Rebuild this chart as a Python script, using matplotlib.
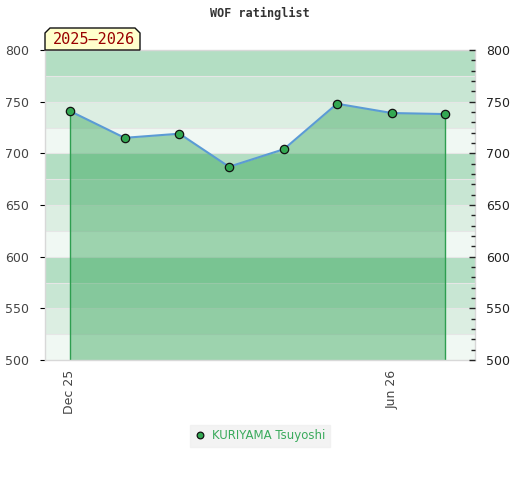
import matplotlib
matplotlib.use("Agg")
import matplotlib.pyplot as plt
import matplotlib.dates as mdates
from matplotlib.patches import Polygon
import numpy as np
import datetime as dt

dates = ["2025-12-01", "2026-01-01", "2026-02-01", "2026-03-01",
         "2026-04-01", "2026-05-01", "2026-06-01", "2026-07-01"]
ratings = [741, 715, 719, 687, 704, 748, 739, 738]
tick_dates = ["2025-12-01", "2026-06-01"]
tick_labels = ["Dec 25", "Jun 26"]
player = "KURIYAMA Tsuyoshi"
season = "2025\u20132026"
title = "WOF ratinglist"

x = [mdates.date2num(dt.datetime.strptime(d, "%Y-%m-%d")) for d in dates]
xt = [mdates.date2num(dt.datetime.strptime(d, "%Y-%m-%d")) for d in tick_dates]

fig = plt.figure(figsize=(5.2, 4.8), dpi=100)
ax = fig.add_axes([45/520, 1-360/480, 430/520, 310/480])

ymin, ymax = 500, 800
xmin = x[0] - 14
xmax = x[-1] + 17
ax.set_xlim(xmin, xmax)
ax.set_ylim(ymin, ymax)

band_colors = ["#f0f8f3", "#dceee2", "#c8e6d3", "#b3dec3"]
for i, y0 in enumerate(np.arange(ymin, ymax, 25)):
    ax.axhspan(y0, y0 + 25, color=band_colors[i % 4], lw=0, zorder=0)
    if y0 > ymin:
        ax.axhline(y0, color="#e6e6e6", lw=0.8, zorder=0.5)

ax.fill_between(x, ratings, ymin, color="#2aa050", alpha=0.42, lw=0, zorder=1)
ax.vlines([x[0], x[-1]], ymin, [ratings[0], ratings[-1]], color="#2e9e50", lw=1, zorder=2)
ax.plot(x, ratings, color="#5b9bd5", lw=1.5, zorder=3)
ax.plot(x, ratings, ls="none", marker="o", ms=6, mfc="#33a852", mec="#111111", mew=0.9, zorder=4,
        label=player)

for s in ax.spines.values():
    s.set_color("#d8d8d8")
    s.set_linewidth(1)

ax.set_yticks(np.arange(500, 801, 50))
ax.tick_params(axis="y", which="both", left=False, labelleft=True, labelsize=9,
               labelcolor="#444444", pad=8)
ax.set_xticks(xt)
ax.set_xticklabels(tick_labels, rotation=90, color="#444444", fontsize=9)
ax.tick_params(axis="x", length=0, pad=7)

ax2 = ax.twinx()
ax2.set_ylim(ymin, ymax)
ax2.set_yticks(np.arange(500, 801, 50))
ax2.set_yticks(np.arange(500, 801, 10), minor=True)
ax2.tick_params(axis="y", which="both", direction="in", color="#222222", width=1,
                labelsize=9, labelcolor="#222222", pad=8)
ax2.tick_params(axis="y", which="major", length=4)
ax2.tick_params(axis="y", which="minor", length=3)
for s in ax2.spines.values():
    s.set_visible(False)

fig.text(0.5, 1-13/480, title, ha="center", va="center", fontsize=8.5,
         family="DejaVu Sans Mono", fontweight="bold", color="#333333")

# season label box with cut corners
bx0, bx1 = 45/520, 140/520
by0, by1 = 1-50/480, 1-28/480
c = 5/520
cy = 5/480
poly = Polygon([(bx0, by0), (bx0, by1 - cy), (bx0 + c, by1), (bx1 - c, by1),
                (bx1, by1 - cy), (bx1, by0)], closed=True, transform=fig.transFigure,
               facecolor="#ffffcc", edgecolor="#111111", lw=1, zorder=5)
fig.patches.append(poly)
fig.text((bx0 + bx1) / 2 + 1/520, (by0 + by1) / 2 - 1/480, season, ha="center", va="center",
         fontsize=11, family="DejaVu Sans Mono", color="#990000", zorder=6)

leg = fig.legend(handles=[ax.lines[-1]], labels=[player], loc="center",
                 bbox_to_anchor=(260/520, 1-436/480), frameon=True, fontsize=8.5,
                 handletextpad=0.6, borderpad=0.4, handlelength=0.9, markerscale=0.8)
leg.get_frame().set_facecolor("#f0f0f0")
leg.get_frame().set_edgecolor("#f0f0f0")
leg.get_frame().set_boxstyle("square", pad=0)
for t in leg.get_texts():
    t.set_color("#3aaa5c")

fig.savefig("out.png", dpi=100)
